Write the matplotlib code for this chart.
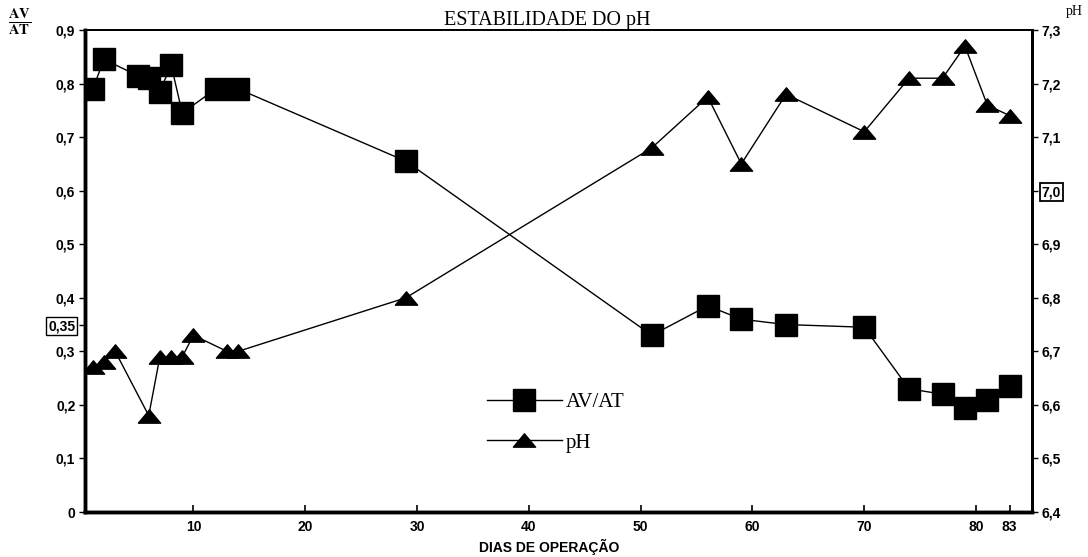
import numpy as np
import matplotlib.pyplot as plt
from matplotlib.path import Path

plt.rcParams['font.family'] = ['Liberation Serif', 'DejaVu Serif']
plt.rcParams['mathtext.fontset'] = 'stix'

# data
dias_av = [1, 2, 5, 6, 7, 8, 9, 12, 14, 29, 51, 56, 59, 63, 70, 74, 77, 79, 81, 83]
av_at = [0.79, 0.845, 0.815, 0.81, 0.785, 0.835, 0.745, 0.79, 0.79, 0.655,
         0.33, 0.385, 0.36, 0.35, 0.345, 0.23, 0.22, 0.195, 0.21, 0.235]

dias_ph = [1, 2, 3, 6, 7, 8, 9, 10, 13, 14, 29, 51, 56, 59, 63, 70, 74, 77, 79, 81, 83]
ph = [6.67, 6.68, 6.70, 6.58, 6.69, 6.69, 6.69, 6.73, 6.70, 6.70, 6.80,
      7.08, 7.175, 7.05, 7.18, 7.11, 7.21, 7.21, 7.27, 7.16, 7.14]

x_ticks = [10, 20, 30, 40, 50, 60, 70, 80, 83]
left_ticks = [0, 0.1, 0.2, 0.3, 0.35, 0.4, 0.5, 0.6, 0.7, 0.8, 0.9]
left_labels = ['0', '0,1', '0,2', '0,3', '0,35', '0,4', '0,5', '0,6', '0,7', '0,8', '0,9']
right_ticks = [6.4, 6.5, 6.6, 6.7, 6.8, 6.9, 7.0, 7.1, 7.2, 7.3]
right_labels = ['6,4', '6,5', '6,6', '6,7', '6,8', '6,9', '7,0', '7,1', '7,2', '7,3']

# flat triangle marker like the original
tri = Path([(-1, -0.6), (1, -0.6), (0, 0.6), (-1, -0.6)],
           [Path.MOVETO, Path.LINETO, Path.LINETO, Path.CLOSEPOLY])

fig = plt.figure(figsize=(10.88, 5.57), dpi=100)
ax = fig.add_axes([85/1088, 1-512/557, (1032-85)/1088, (512-30)/557])
ax2 = ax.twinx()

l1, = ax.plot(dias_av, av_at, color='black', lw=1, marker='s', ms=16,
              mfc='black', mec='black', label='AV/AT', zorder=3)
l2, = ax2.plot(dias_ph, ph, color='black', lw=1, marker=tri, ms=16,
               mfc='black', mec='black', label='pH', zorder=3)

ax.set_xlim(0.3, 85)
ax.set_ylim(0, 0.9)
ax2.set_ylim(6.4, 7.3)

tick_font = dict(family='Liberation Sans', weight='bold', size=10)

ax.set_xticks(x_ticks, labels=[str(t) for t in x_ticks], **tick_font)
ax.tick_params(axis='x', direction='in', length=5, width=1.2, pad=6)
ax.set_yticks(left_ticks, labels=left_labels, **tick_font)
ax.tick_params(axis='y', direction='out', length=4, width=1, pad=3)
ax2.set_yticks(right_ticks, labels=right_labels, **tick_font)
ax2.tick_params(axis='y', direction='out', length=4, width=1, pad=3)

for lbl in ax.get_yticklabels():
    if lbl.get_text() == '0,35':
        lbl.set_bbox(dict(facecolor='white', edgecolor='black', lw=1, pad=1.5))
for lbl in ax2.get_yticklabels():
    if lbl.get_text() == '7,0':
        lbl.set_bbox(dict(facecolor='white', edgecolor='black', lw=1.3, pad=1.5))

for a in (ax, ax2):
    a.spines['left'].set_linewidth(2.5)
    a.spines['bottom'].set_linewidth(2.5)
    a.spines['top'].set_linewidth(1.3)
    a.spines['right'].set_linewidth(2)

fig.text(547/1088, 1-21/557, 'ESTABILIDADE DO pH', ha='center', va='center', fontsize=14.5)
fig.text(549/1088, 1-547/557, 'DIAS DE OPERAÇÃO', ha='center', va='center',
         fontsize=10, family='Liberation Sans', weight='bold')
fig.text(20/1088, 1-22/557, r'$\frac{\mathbf{AV}}{\mathbf{AT}}$', ha='center', va='center', fontsize=15)
fig.text(1066/1088, 1-12/557, 'pH', ha='left', va='center', fontsize=10)

leg = ax.legend([l1, l2], ['AV/AT', 'pH'], loc='upper left',
                bbox_to_anchor=(468/1088, 1-374/557), bbox_transform=fig.transFigure,
                frameon=False, fontsize=15, handlelength=3.6, handletextpad=0.2,
                labelspacing=1.0, markerscale=1)

fig.savefig('out.png', dpi=100)
